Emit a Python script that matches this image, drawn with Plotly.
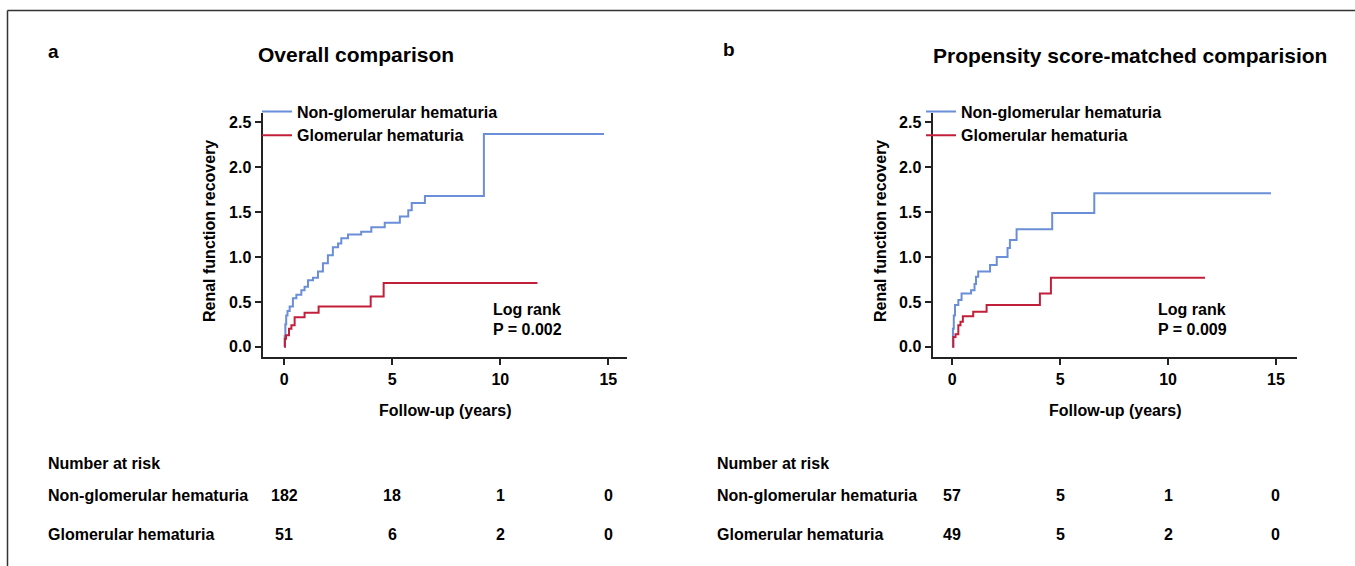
import plotly.graph_objects as go

# ---------------- data ----------------
# Panel a: overall comparison (cumulative recovery curves, step functions)
a_ng_time = [0, 0.02, 0.05, 0.09, 0.15, 0.25, 0.40, 0.56, 0.79, 0.94, 1.10, 1.33, 1.56, 1.79,
             2.02, 2.25, 2.49, 2.64, 2.95, 3.56, 4.03, 4.65, 5.35, 5.74, 5.90, 6.51, 9.24, 14.8]
a_ng_val = [0, 0.12, 0.25, 0.35, 0.40, 0.45, 0.54, 0.58, 0.63, 0.67, 0.74, 0.77, 0.84, 0.93,
            1.02, 1.11, 1.15, 1.21, 1.25, 1.28, 1.33, 1.38, 1.45, 1.52, 1.60, 1.68, 2.37, 2.37]
a_g_time = [0, 0.03, 0.08, 0.22, 0.33, 0.48, 0.94, 1.59, 4.00, 4.60, 11.72]
a_g_val = [0, 0.09, 0.13, 0.20, 0.24, 0.33, 0.38, 0.45, 0.56, 0.71, 0.71]

# Panel b: propensity score-matched comparison
b_ng_time = [0, 0.03, 0.07, 0.125, 0.28, 0.43, 0.87, 1.03, 1.10, 1.20, 1.75, 2.06, 2.56, 2.67,
             2.98, 4.63, 6.58, 14.77]
b_ng_val = [0, 0.20, 0.35, 0.465, 0.52, 0.595, 0.63, 0.70, 0.78, 0.84, 0.91, 1.00, 1.10, 1.19,
            1.31, 1.49, 1.71, 1.71]
b_g_time = [0, 0.05, 0.15, 0.28, 0.38, 0.49, 0.97, 1.59, 4.06, 4.57, 11.71]
b_g_val = [0, 0.11, 0.14, 0.24, 0.28, 0.34, 0.39, 0.465, 0.595, 0.77, 0.77]

series_names = ["Non-glomerular hematuria", "Glomerular hematuria"]
risk_times = [0, 5, 10, 15]
a_risk_ng = [182, 18, 1, 0]
a_risk_g = [51, 6, 2, 0]
b_risk_ng = [57, 5, 1, 0]
b_risk_g = [49, 5, 2, 0]

x_ticks = [0, 5, 10, 15]
y_ticks = [0.0, 0.5, 1.0, 1.5, 2.0, 2.5]
y_tick_text = ["0.0", "0.5", "1.0", "1.5", "2.0", "2.5"]

panel_titles = ["Overall comparison", "Propensity score-matched comparision"]
panel_letters = ["a", "b"]
p_values = ["P = 0.002", "P = 0.009"]

# ---------------- style ----------------
W, H = 1355, 566
FONT = "Arial, Liberation Sans, Helvetica, sans-serif"
BLUE = "#6B8ED8"
RED = "#C21F3A"
AX = "#222222"

def px(xp):
    return xp / W

def py(yp):
    return 1 - yp / H

fig = go.Figure()

fig.add_trace(go.Scatter(x=a_ng_time, y=a_ng_val, mode="lines", line=dict(color=BLUE, width=2, shape="hv"),
                         name=series_names[0], xaxis="x", yaxis="y", legend="legend"))
fig.add_trace(go.Scatter(x=a_g_time, y=a_g_val, mode="lines", line=dict(color=RED, width=2, shape="hv"),
                         name=series_names[1], xaxis="x", yaxis="y", legend="legend"))
fig.add_trace(go.Scatter(x=b_ng_time, y=b_ng_val, mode="lines", line=dict(color=BLUE, width=2, shape="hv"),
                         name=series_names[0], xaxis="x2", yaxis="y2", legend="legend2"))
fig.add_trace(go.Scatter(x=b_g_time, y=b_g_val, mode="lines", line=dict(color=RED, width=2, shape="hv"),
                         name=series_names[1], xaxis="x2", yaxis="y2", legend="legend2"))

axis_common = dict(showline=True, linecolor=AX, linewidth=1.5, ticks="outside", ticklen=7,
                   tickwidth=1.5, tickcolor=AX, showgrid=False, zeroline=False,
                   tickfont=dict(family=FONT, size=16, color="black", weight="bold"))

fig.update_layout(
    width=W, height=H,
    margin=dict(l=0, r=0, t=0, b=0),
    paper_bgcolor="white", plot_bgcolor="white",
    font=dict(family=FONT, size=16, color="black"),
    xaxis=dict(domain=[px(263.3), px(626.7)], range=[-0.97, 15.85], anchor="y",
               tickvals=x_ticks, **axis_common),
    yaxis=dict(domain=[py(356.7), py(113.3)], range=[-0.11, 2.6], anchor="x",
               tickvals=y_ticks, ticktext=y_tick_text, **axis_common),
    xaxis2=dict(domain=[px(933.3), px(1296.7)], range=[-0.88, 15.96], anchor="y2",
                tickvals=x_ticks, **axis_common),
    yaxis2=dict(domain=[py(356.7), py(113.3)], range=[-0.11, 2.6], anchor="x2",
                tickvals=y_ticks, ticktext=y_tick_text, **axis_common),
    legend=dict(x=px(257), y=py(94.5), xanchor="left", yanchor="top", bgcolor="rgba(0,0,0,0)",
                font=dict(family=FONT, size=16, color="black", weight="bold"), itemwidth=30),
    legend2=dict(x=px(921), y=py(94.5), xanchor="left", yanchor="top", bgcolor="rgba(0,0,0,0)",
                 font=dict(family=FONT, size=16, color="black", weight="bold"), itemwidth=30),
    showlegend=True,
)

bold = lambda s: dict(family=FONT, size=s, color="black", weight="bold")
ann = []
# panel letters and titles
ann.append(dict(text=panel_letters[0], x=px(46), y=py(52), xref="paper", yref="paper",
                xanchor="left", yanchor="middle", showarrow=False, font=bold(19)))
ann.append(dict(text=panel_letters[1], x=px(721), y=py(50), xref="paper", yref="paper",
                xanchor="left", yanchor="middle", showarrow=False, font=bold(19)))
ann.append(dict(text=panel_titles[0], x=px(355.5), y=py(54), xref="paper", yref="paper",
                xanchor="center", yanchor="middle", showarrow=False, font=bold(21)))
ann.append(dict(text=panel_titles[1], x=px(1130), y=py(55), xref="paper", yref="paper",
                xanchor="center", yanchor="middle", showarrow=False, font=bold(21)))

# axis titles
for xc, yc_x in [(445, 209), (1115, 880)]:
    ann.append(dict(text="Follow-up (years)", x=px(xc), y=py(410), xref="paper", yref="paper",
                    xanchor="center", yanchor="middle", showarrow=False, font=bold(16)))
    ann.append(dict(text="Renal function recovery", x=px(yc_x), y=py(231), xref="paper", yref="paper",
                    xanchor="center", yanchor="middle", textangle=-90, showarrow=False, font=bold(16)))

# log-rank annotations
for xr, yr, pv, lx in [("x", "y", p_values[0], 9.57), ("x2", "y2", p_values[1], 9.44)]:
    ann.append(dict(text="Log rank", x=lx, y=0.42, xref=xr, yref=yr, xanchor="left",
                    yanchor="middle", showarrow=False, font=bold(16)))
    ann.append(dict(text=pv, x=lx, y=0.195, xref=xr, yref=yr, xanchor="left",
                    yanchor="middle", showarrow=False, font=bold(16)))

# number-at-risk tables
for xr, lab_x, ng, g in [("x", 46, a_risk_ng, a_risk_g), ("x2", 715, b_risk_ng, b_risk_g)]:
    ann.append(dict(text="Number at risk", x=px(lab_x), y=py(463), xref="paper", yref="paper",
                    xanchor="left", yanchor="middle", showarrow=False, font=bold(16)))
    ann.append(dict(text=series_names[0], x=px(lab_x), y=py(495.5), xref="paper", yref="paper",
                    xanchor="left", yanchor="middle", showarrow=False, font=bold(16)))
    ann.append(dict(text=series_names[1], x=px(lab_x), y=py(534), xref="paper", yref="paper",
                    xanchor="left", yanchor="middle", showarrow=False, font=bold(16)))
    for t, v in zip(risk_times, ng):
        ann.append(dict(text=str(v), x=t, y=py(495.5), xref=xr, yref="paper", xanchor="center",
                        yanchor="middle", showarrow=False, font=bold(16)))
    for t, v in zip(risk_times, g):
        ann.append(dict(text=str(v), x=t, y=py(534), xref=xr, yref="paper", xanchor="center",
                        yanchor="middle", showarrow=False, font=bold(16)))

fig.update_layout(annotations=ann)

# outer frame (top and left edges)
fig.add_shape(type="line", xref="paper", yref="paper", x0=px(7.5), x1=1, y0=py(10.5), y1=py(10.5),
              line=dict(color="#333333", width=1.5))
fig.add_shape(type="line", xref="paper", yref="paper", x0=px(7.5), x1=px(7.5), y0=0, y1=py(10.5),
              line=dict(color="#333333", width=1.5))

fig.write_html("out.html", config={"displayModeBar": False},
               post_script="document.body.style.margin='0';document.body.style.padding='0';")
